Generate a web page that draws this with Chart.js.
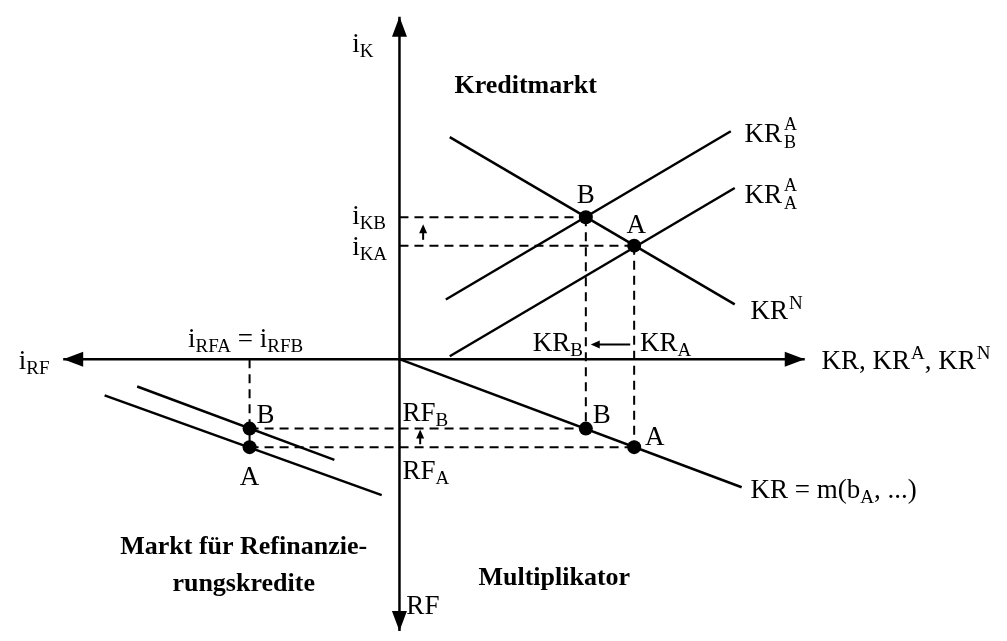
<!DOCTYPE html>
<html>
<head>
<meta charset="utf-8">
<script src="https://cdn.jsdelivr.net/npm/chart.js@4/dist/chart.umd.min.js"></script>
<style>
  html, body { margin: 0; padding: 0; background: #fff; }
  #wrap { width: 1007px; height: 641px; }
</style>
</head>
<body>
<div id="wrap"><canvas id="c" width="1007" height="641"></canvas></div>
<script>
// ---------- DATA (diagram coordinates, origin = axis crossing) ----------
// Axes extents (tips of arrows)
const axisKR   = [{x: -34.1, y: 0}, {x: 41.1, y: 0}];   // horizontal axis: i_RF  <-> KR
const axisIK   = [{x: 0, y: -27.8}, {x: 0, y: 35.0}];   // vertical axis: RF <-> i_K

// Credit market (upper right quadrant)
const curveKRN   = [{x: 5.1, y: 22.7}, {x: 34.0, y: 5.6}];   // credit demand KR^N
const curveKRA_B = [{x: 4.7, y: 6.1},  {x: 33.6, y: 23.3}];  // credit supply KR^A_B
const curveKRA_A = [{x: 5.1, y: 0.3},  {x: 34.0, y: 17.5}];  // credit supply KR^A_A

// Multiplier (lower right quadrant)
const curveMult  = [{x: 0, y: 0}, {x: 34.7, y: -13.1}];

// Refinancing market (lower left quadrant)
const curveRF_B  = [{x: -26.6, y: -2.8}, {x: -6.6, y: -10.3}];
const curveRF_A  = [{x: -29.9, y: -3.7}, {x: -1.8, y: -13.9}];

// Equilibria
const eqUpper = [{x: 18.9, y: 14.5}, {x: 23.8, y: 11.6}];
const eqLower = [{x: 18.9, y: -7.1}, {x: 23.8, y: -9.0}];
const eqLeft  = [{x: -15.2, y: -7.1}, {x: -15.2, y: -9.0}];

// Guide lines (dashed)
const guideIKB = [{x: 0, y: 14.5}, {x: 18.9, y: 14.5}];
const guideIKA = [{x: 0, y: 11.6}, {x: 23.8, y: 11.6}];
const guideKRB = [{x: 18.9, y: 14.5}, {x: 18.9, y: -7.1}];
const guideKRA = [{x: 23.8, y: 11.6}, {x: 23.8, y: -9.0}];
const guideRFB = [{x: -15.2, y: -7.1}, {x: 18.9, y: -7.1}];
const guideRFA = [{x: -15.2, y: -9.0}, {x: 23.8, y: -9.0}];
const guideIRF = [{x: -15.2, y: 0}, {x: -15.2, y: -9.0}];

// Shift arrows [from, to]
const shiftArrows = [
  [{x: 23.4, y: 1.5}, {x: 19.4, y: 1.5}],
  [{x: 2.4, y: 12.2}, {x: 2.4, y: 13.8}],
  [{x: 2.1, y: -8.7}, {x: 2.1, y: -7.2}]
];

// Labels: parts = [text, mode]; mode '' | 'sub' | 'sup' | 'stack' (text = [sup, sub])
const labels = [
  {p: [['i',''],['K','sub']], x: -4.8, y: 31.4, a: 'left'},
  {p: [['Kreditmarkt','']], x: 12.8, y: 27.2, a: 'center', b: true},
  {p: [['KR',''],[['A','B'],'stack']], x: 35.0, y: 22.2, a: 'left'},
  {p: [['KR',''],[['A','A'],'stack']], x: 35.0, y: 16.0, a: 'left'},
  {p: [['B','']], x: 18.9, y: 16.0, a: 'center'},
  {p: [['A','']], x: 24.0, y: 12.9, a: 'center'},
  {p: [['i',''],['KB','sub']], x: -4.8, y: 13.8, a: 'left'},
  {p: [['i',''],['KA','sub']], x: -4.8, y: 10.6, a: 'left'},
  {p: [['KR',''],['N','sup']], x: 35.6, y: 4.1, a: 'left'},
  {p: [['KR',''],['B','sub']], x: 18.6, y: 0.8, a: 'right'},
  {p: [['KR',''],['A','sub']], x: 24.4, y: 0.8, a: 'left'},
  {p: [['KR, KR',''],['A','sup'],[', KR',''],['N','sup']], x: 42.8, y: -1.0, a: 'left'},
  {p: [['i',''],['RF','sub']], x: -38.6, y: -1.0, a: 'left'},
  {p: [['i',''],['RFA','sub'],[' = i',''],['RFB','sub']], x: -15.6, y: 1.2, a: 'center'},
  {p: [['B','']], x: -14.5, y: -6.5, a: 'left'},
  {p: [['A','']], x: -15.2, y: -12.9, a: 'center'},
  {p: [['RF',''],['B','sub']], x: 0.3, y: -6.3, a: 'left'},
  {p: [['RF',''],['A','sub']], x: 0.3, y: -12.3, a: 'left'},
  {p: [['B','']], x: 19.6, y: -6.5, a: 'left'},
  {p: [['A','']], x: 24.9, y: -8.8, a: 'left'},
  {p: [['KR = m(b',''],['A','sub'],[', ...)','']], x: 35.6, y: -14.2, a: 'left'},
  {p: [['Markt für Refinanzie-','']], x: -15.8, y: -19.9, a: 'center', b: true},
  {p: [['rungskredite','']], x: -15.8, y: -23.7, a: 'center', b: true},
  {p: [['Multiplikator','']], x: 15.7, y: -23.1, a: 'center', b: true},
  {p: [['RF','']], x: 0.7, y: -26.1, a: 'left'}
];

// ---------- STYLE ----------
const INK = '#000';
const FONT = '"Liberation Serif", "Times New Roman", serif';
const SIZE = 27, SUB = 19, BOLD = 26;

function solid(data, w) {
  return {data, showLine: true, borderColor: INK, borderWidth: w || 2.5, pointRadius: 0, fill: false, tension: 0};
}
function dashed(data) {
  return {data, showLine: true, borderColor: INK, borderWidth: 2, borderDash: [9, 6], pointRadius: 0, fill: false, tension: 0};
}
function dots(data) {
  return {data, showLine: false, pointRadius: 7, pointBackgroundColor: INK, pointBorderColor: INK, pointBorderWidth: 0};
}

const datasets = [
  dashed(guideIKB), dashed(guideIKA), dashed(guideKRB), dashed(guideKRA),
  dashed(guideRFB), dashed(guideRFA), dashed(guideIRF),
  solid(axisKR, 2.5), solid(axisIK, 2.5),
  solid(curveKRN), solid(curveKRA_B), solid(curveKRA_A),
  solid(curveMult), solid(curveRF_B), solid(curveRF_A),
  dots(eqUpper), dots(eqLower), dots(eqLeft)
];

function px(chart, p) {
  return [chart.scales.x.getPixelForValue(p.x), chart.scales.y.getPixelForValue(p.y)];
}

function arrowHead(ctx, x1, y1, x2, y2, len, half) {
  const ang = Math.atan2(y2 - y1, x2 - x1);
  ctx.beginPath();
  ctx.moveTo(x2, y2);
  ctx.lineTo(x2 - len * Math.cos(ang) + half * Math.sin(ang), y2 - len * Math.sin(ang) - half * Math.cos(ang));
  ctx.lineTo(x2 - len * Math.cos(ang) - half * Math.sin(ang), y2 - len * Math.sin(ang) + half * Math.cos(ang));
  ctx.closePath();
  ctx.fill();
}

const arrowPlugin = {
  id: 'arrows',
  afterDatasetsDraw(chart) {
    const ctx = chart.ctx;
    ctx.save();
    ctx.fillStyle = INK; ctx.strokeStyle = INK;
    const axes = [[axisKR[1], axisKR[0]], [axisKR[0], axisKR[1]], [axisIK[0], axisIK[1]], [axisIK[1], axisIK[0]]];
    axes.forEach(([a, b]) => {
      const [x1, y1] = px(chart, a), [x2, y2] = px(chart, b);
      arrowHead(ctx, x1, y1, x2, y2, 20, 7.5);
    });
    shiftArrows.forEach(([a, b]) => {
      const [x1, y1] = px(chart, a), [x2, y2] = px(chart, b);
      const ang = Math.atan2(y2 - y1, x2 - x1);
      ctx.lineWidth = 2;
      ctx.beginPath();
      ctx.moveTo(x1, y1);
      ctx.lineTo(x2 - 6 * Math.cos(ang), y2 - 6 * Math.sin(ang));
      ctx.stroke();
      arrowHead(ctx, x1, y1, x2, y2, 9, 4);
    });
    ctx.restore();
  }
};

function setFont(ctx, mode, bold) {
  if (mode === '') ctx.font = bold ? 'bold ' + BOLD + 'px ' + FONT : SIZE + 'px ' + FONT;
  else if (mode === 'stack') ctx.font = '18px ' + FONT;
  else ctx.font = SUB + 'px ' + FONT;
}

function partWidth(ctx, part, bold) {
  const [t, m] = part;
  setFont(ctx, m, bold);
  if (m === 'stack') return Math.max(ctx.measureText(t[0]).width, ctx.measureText(t[1]).width) + 2;
  return ctx.measureText(t).width + (m === 'sup' ? 1 : 0);
}

const labelPlugin = {
  id: 'labels',
  afterDraw(chart) {
    const ctx = chart.ctx;
    ctx.save();
    ctx.fillStyle = INK;
    ctx.textBaseline = 'alphabetic';
    ctx.textAlign = 'left';
    labels.forEach(l => {
      const [x0, y0] = px(chart, l);
      const widths = l.p.map(p => partWidth(ctx, p, l.b));
      const total = widths.reduce((s, w) => s + w, 0);
      let x = l.a === 'center' ? x0 - total / 2 : (l.a === 'right' ? x0 - total : x0);
      l.p.forEach((part, i) => {
        const [t, m] = part;
        setFont(ctx, m, l.b);
        if (m === '') ctx.fillText(t, x, y0);
        else if (m === 'sub') ctx.fillText(t, x, y0 + 5);
        else if (m === 'sup') ctx.fillText(t, x + 1, y0 - 10);
        else if (m === 'stack') {
          ctx.fillText(t[0], x + 2, y0 - 12);
          ctx.fillText(t[1], x + 2, y0 + 6);
        }
        x += widths[i];
      });
    });
    ctx.restore();
  }
};

new Chart(document.getElementById('c'), {
  type: 'scatter',
  data: {datasets},
  options: {
    responsive: false,
    animation: false,
    events: [],
    layout: {padding: 0},
    plugins: {legend: {display: false}, tooltip: {enabled: false}, title: {display: false}},
    scales: {
      x: {type: 'linear', min: -39.8, max: 60.9, display: false},
      y: {type: 'linear', min: -28.1, max: 36.0, display: false}
    }
  },
  plugins: [arrowPlugin, labelPlugin]
});
</script>
</body>
</html>
